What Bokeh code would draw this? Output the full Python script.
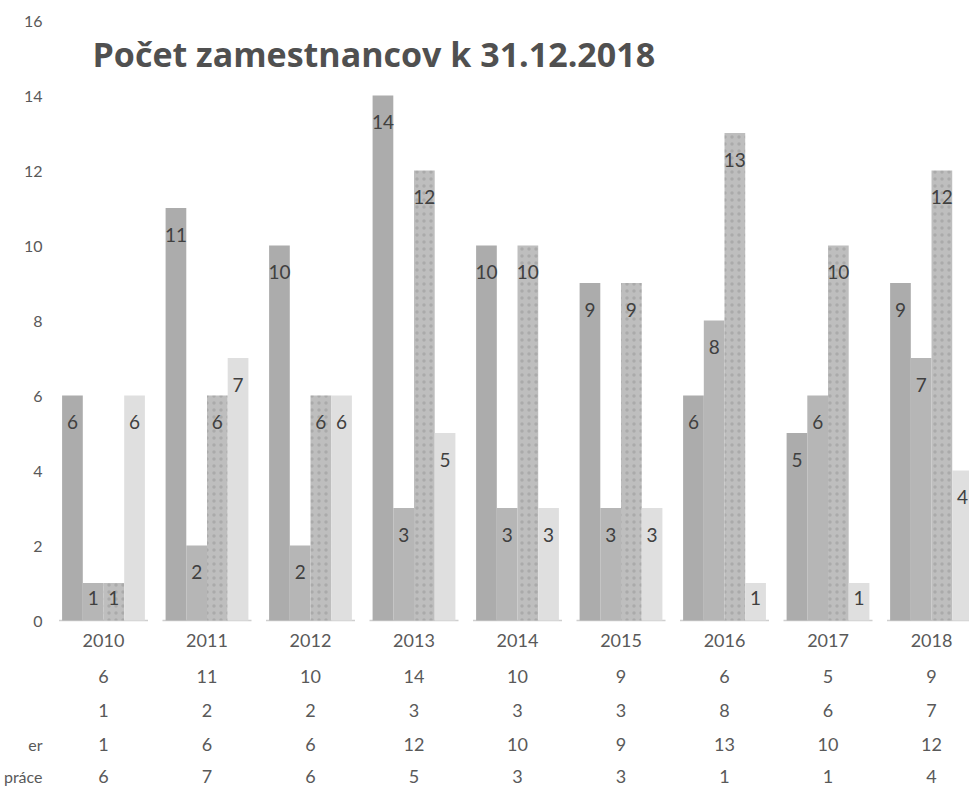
from bokeh.plotting import figure
from bokeh.models import FixedTicker, ColumnDataSource, Label, Range1d
from bokeh.core.properties import value
from bokeh.embed import file_html
from bokeh.resources import INLINE

# ---- data ----
years = ["2010", "2011", "2012", "2013", "2014", "2015", "2016", "2017", "2018"]
series_1 = [6, 11, 10, 14, 10, 9, 6, 5, 9]
series_2 = [1, 2, 2, 3, 3, 3, 8, 6, 7]
series_3 = [1, 6, 6, 12, 10, 9, 13, 10, 12]
series_4 = [6, 7, 6, 5, 3, 3, 1, 1, 4]
row_names = ["", "", "er", "práce"]   # visible (cropped) data-table row names
y_ticks = [0, 2, 4, 6, 8, 10, 12, 14, 16]
title_text = "Počet zamestnancov k 31.12.2018"

# ---- style / layout ----
FONT = "Lato"
colors = ["#acacac", "#b6b6b6", "#bebebe", "#dfdfdf"]
offsets = [-0.3, -0.1, 0.1, 0.3]
bar_w = 0.2
label_color = "#404040"
table_color = "#595959"

PX_PER_UNIT = 37.5
row_y = [-0.533, -1.493, -2.40, -3.307, -4.16]

p = figure(width=969, height=786, output_backend="svg", toolbar_location=None,
           x_range=Range1d(-0.541, 8.367), y_range=Range1d(-4.427, 16.533),
           x_axis_location=None, min_border_left=44, min_border_right=0,
           min_border_top=0, min_border_bottom=0)
p.outline_line_color = None
p.grid.visible = False
p.background_fill_color = "white"
p.border_fill_color = "white"

# y axis: value ticks, plus the (cropped) data-table row names
yax = p.yaxis[0]
overrides = {}
tick_list = list(y_ticks)
for r, name in enumerate(row_names):
    if name:
        tick_list.append(row_y[r + 1])
        overrides[row_y[r + 1]] = name
yax.ticker = FixedTicker(ticks=tick_list)
yax.major_label_overrides = overrides
yax.axis_line_color = None
yax.major_tick_line_color = None
yax.minor_tick_line_color = None
yax.major_tick_out = 0
yax.major_tick_in = 0
yax.major_label_standoff = 5
yax.major_label_text_font = FONT
yax.major_label_text_font_size = "16px"
yax.major_label_text_color = table_color

# axis baseline segments under each category
idx = list(range(len(years)))
p.segment(x0=[i - 0.43 for i in idx], y0=[0] * len(idx),
          x1=[i + 0.43 for i in idx], y1=[0] * len(idx),
          line_color="#cfcfcf", line_width=1.5)

all_series = [series_1, series_2, series_3, series_4]
for k, (vals, col, off) in enumerate(zip(all_series, colors, offsets)):
    xs = [i + off for i in idx]
    src = ColumnDataSource(dict(x=xs, top=vals))
    kw = {}
    if k == 2:
        kw = dict(hatch_pattern=".", hatch_color="#6e6e6e", hatch_alpha=0.25, hatch_scale=7)
    p.vbar(x="x", top="top", width=bar_w, source=src, fill_color=col,
           line_color=None, **kw)
    # data labels (inside end)
    ly = [v - 27.0 / PX_PER_UNIT if v >= 2 else v - 15.0 / PX_PER_UNIT for v in vals]
    lsrc = ColumnDataSource(dict(x=xs, y=ly, t=[str(v) for v in vals]))
    p.text(x="x", y="y", text="t", source=lsrc, text_font=value(FONT),
           text_font_size="19px", text_align="center", text_baseline="middle",
           text_color=label_color)

# data table: year row + value rows
tsrc = ColumnDataSource(dict(x=idx, y=[row_y[0]] * len(idx), t=years))
p.text(x="x", y="y", text="t", source=tsrc, text_font=value(FONT),
       text_font_size="18px", text_align="center", text_baseline="middle",
       text_color=table_color)
for r, vals in enumerate(all_series):
    rsrc = ColumnDataSource(dict(x=idx, y=[row_y[r + 1]] * len(idx),
                                 t=[str(v) for v in vals]))
    p.text(x="x", y="y", text="t", source=rsrc, text_font=value(FONT),
           text_font_size="18px", text_align="center", text_baseline="middle",
           text_color=table_color)

p.add_layout(Label(x=-0.106, y=15.11, text=title_text, text_font="Open Sans",
                   text_font_size="34px", text_font_style="bold",
                   text_align="left", text_baseline="middle",
                   text_color="#505050"))

open("out.html", "w").write(file_html(p, INLINE))
